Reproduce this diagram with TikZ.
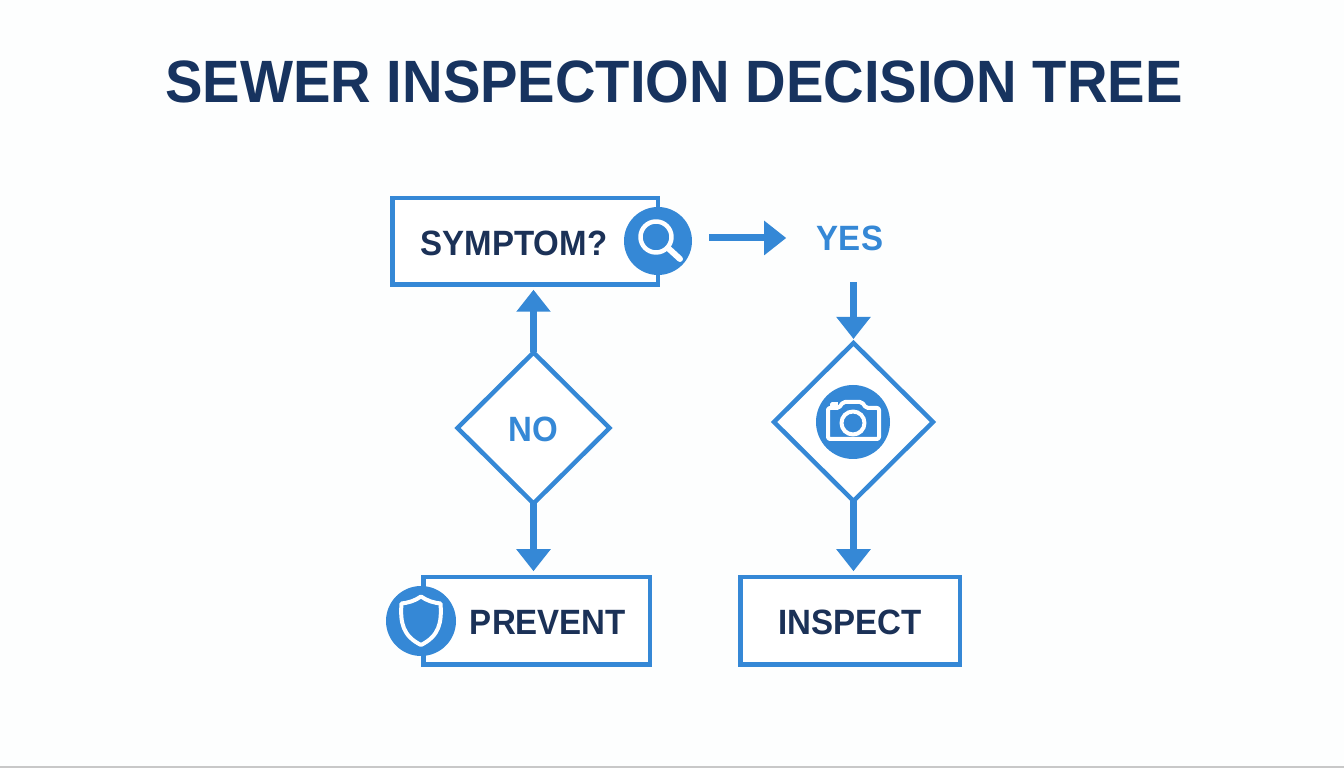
\documentclass[tikz,border=0pt]{standalone}
\usepackage{fontspec}
\setmainfont[FakeStretch=0.94]{Liberation Sans}
\usetikzlibrary{arrows.meta,calc,positioning,shapes.geometric}
\definecolor{flowblue}{HTML}{3588D6}
\definecolor{titlenavy}{HTML}{17335F}
\definecolor{labelnavy}{HTML}{1B3157}
\definecolor{pagewhite}{HTML}{FDFEFE}
\definecolor{edgegrey}{HTML}{C8C8C8}
\def\titlefont{\fontsize{17}{20}\selectfont\bfseries}
\def\labelfont{\fontsize{10}{12}\selectfont\bfseries}
\tikzset{
  flowbox/.style={draw=flowblue, line width=0.045cm, fill=white, inner sep=0pt, outer sep=0pt},
  flowdiamond/.style={diamond, draw=flowblue, line width=0.045cm, fill=white, inner sep=0pt, outer sep=0pt},
  iconcircle/.style={circle, fill=flowblue, inner sep=0pt, outer sep=0pt},
  boxlabel/.style={text=labelnavy, font=\labelfont, inner sep=0pt},
  bluelabel/.style={text=flowblue, font=\labelfont, inner sep=0pt},
  flowarrow/.style={draw=flowblue, line width=0.07cm, -{Triangle[width=0.33cm,length=0.22cm]}},
  iconline/.style={draw=white, line width=0.04cm, line join=round}
}
\begin{document}
\begin{tikzpicture}
\useasboundingbox (0,0) rectangle (13.44,7.68);
\fill[pagewhite] (0,0) rectangle (13.44,7.68);
\fill[edgegrey] (0,0) rectangle (13.44,0.015);
\node (title) at (6.74,6.86) {\textcolor{titlenavy}{\titlefont SEWER INSPECTION DECISION TREE}};
\node (symptombox) at (5.25,5.265) [flowbox, minimum width=2.655cm, minimum height=0.865cm] {};
\node (preventbox) at (5.365,1.47) [flowbox, minimum width=2.265cm, minimum height=0.875cm] {};
\node (inspectbox) at (8.5,1.47) [flowbox, minimum width=2.195cm, minimum height=0.875cm] {};
\node (nodiamond) at (5.335,3.40) [flowdiamond, minimum width=1.52cm, minimum height=1.51cm] {};
\node (camdiamond) at (8.535,3.46) [flowdiamond, minimum width=1.59cm, minimum height=1.58cm] {};
\node (symptomtext) at (5.14,5.25) [boxlabel] {SYMPTOM?};
\node (preventtext) at (5.48,1.46) [boxlabel] {PREVENT};
\node (inspecttext) at (8.5,1.46) [boxlabel] {INSPECT};
\node (yestext) at (8.5,5.30) [bluelabel] {YES};
\node (notext) at (5.33,3.39) [bluelabel] {NO};
\node (searchicon) at (6.58,5.27) [iconcircle, minimum size=0.68cm] {};
\node (shieldicon) at (4.21,1.47) [iconcircle, minimum size=0.70cm] {};
\node (cameraicon) at (8.53,3.46) [iconcircle, minimum size=0.74cm] {};
\draw[flowarrow, shorten >=0.05cm] (nodiamond.north) -- (nodiamond.north |- symptombox.south);
\draw[flowarrow, shorten >=0.06cm] (nodiamond.south) -- (nodiamond.south |- preventbox.north);
\draw[flowarrow, shorten <=0.17cm, shorten >=0.30cm] (searchicon.east |- yestext.west) -- (yestext.west);
\draw[flowarrow, shorten <=0.31cm, shorten >=0.04cm] (yestext.south -| camdiamond.north) -- (camdiamond.north);
\draw[flowarrow, shorten >=0.06cm] (camdiamond.south) -- (camdiamond.south |- inspectbox.north);
% icons
\draw[iconline, line width=0.045cm] ($(searchicon)+(-0.02,0.04)$) circle (0.155);
\draw[iconline, line width=0.06cm, line cap=round] ($(searchicon)+(0.10,-0.07)$) -- ($(searchicon)+(0.22,-0.18)$);
\draw[iconline] ($(shieldicon)+(0,0.245)$)
  .. controls ($(shieldicon)+(-0.06,0.20)$) and ($(shieldicon)+(-0.14,0.18)$) .. ($(shieldicon)+(-0.195,0.175)$)
  .. controls ($(shieldicon)+(-0.21,-0.02)$) and ($(shieldicon)+(-0.18,-0.15)$) .. ($(shieldicon)+(0,-0.24)$)
  .. controls ($(shieldicon)+(0.18,-0.15)$) and ($(shieldicon)+(0.21,-0.02)$) .. ($(shieldicon)+(0.195,0.175)$)
  .. controls ($(shieldicon)+(0.14,0.18)$) and ($(shieldicon)+(0.06,0.20)$) .. cycle;
\draw[iconline, rounded corners=0.02cm] ($(cameraicon)+(-0.25,-0.17)$) -- ($(cameraicon)+(0.26,-0.17)$) -- ($(cameraicon)+(0.26,0.14)$)
  -- ($(cameraicon)+(0.13,0.14)$) -- ($(cameraicon)+(0.09,0.20)$) -- ($(cameraicon)+(-0.10,0.20)$) -- ($(cameraicon)+(-0.14,0.14)$)
  -- ($(cameraicon)+(-0.25,0.14)$) -- cycle;
\draw[iconline, line width=0.035cm] ($(cameraicon)+(-0.21,0.14)$) -- ($(cameraicon)+(-0.21,0.18)$) -- ($(cameraicon)+(-0.15,0.18)$);
\draw[iconline] ($(cameraicon)+(0,-0.01)$) circle (0.115);
\end{tikzpicture}
\end{document}
